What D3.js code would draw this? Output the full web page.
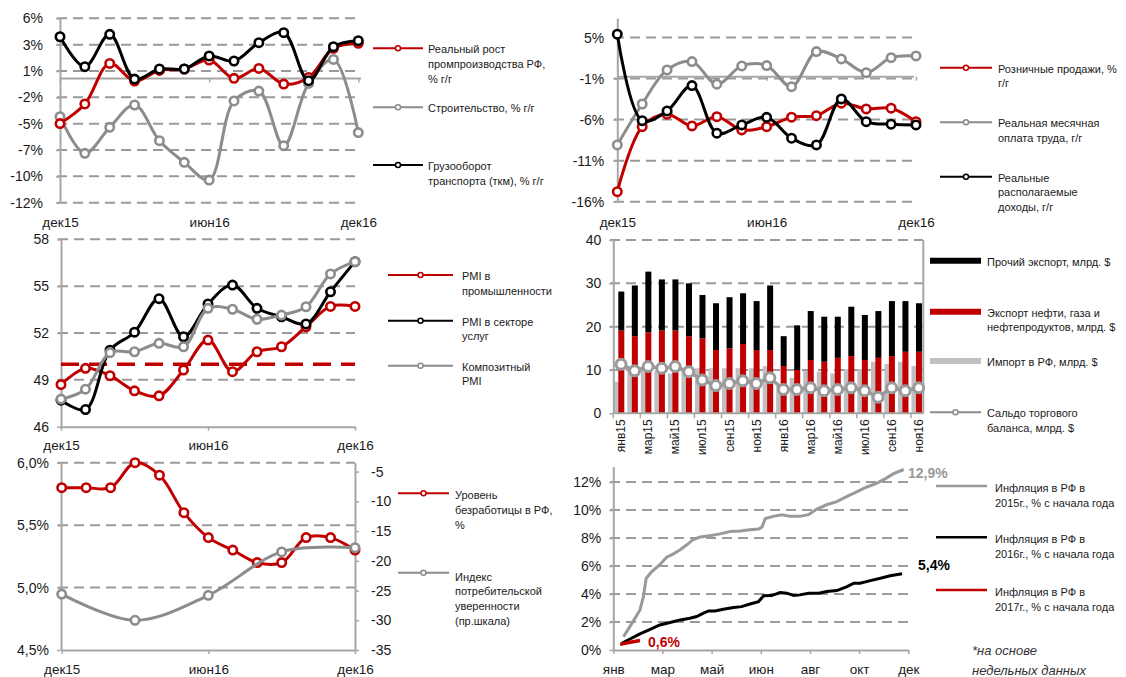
<!DOCTYPE html>
<html lang="ru">
<head>
<meta charset="UTF-8">
<title>Экономика РФ</title>
<script src="https://d3js.org/d3.v7.min.js"></script>
<style>
  body { margin: 0; background: #fff; }
  svg { display: block; }
</style>
</head>
<body>
<svg id="chart" width="1126" height="677"></svg>
<script>
// ---------- data ----------
const months = ["дек15","янв16","фев16","мар16","апр16","май16","июн16","июл16","авг16","сен16","окт16","ноя16","дек16"];
const monthTicks = ["дек15","июн16","дек16"];

// panel 1: industry
const p1Labels = ["-12%","-10%","-7%","-5%","-2%","1%","3%","6%"];
const industry = [-4.5,-2.55,1.5,-0.26,0.8,0.94,1.84,0.01,1.0,-0.56,0.1,3.0,3.5];
const construction = [-3.82,-7.47,-4.88,-2.65,-6.21,-8.37,-10.14,-2.25,-1.26,-6.71,-0.5,1.9,-5.4];
const freight = [4.16,1.17,4.4,-0.06,0.94,0.94,2.24,1.74,3.57,4.57,-0.23,3.17,3.77];

// panel 2: consumer
const p2Ticks = [-16,-10.75,-5.5,-0.25,5];
const p2Labels = ["-16%","-11%","-6%","-1%","5%"];
const retail = [-14.72,-6.4,-4.81,-6.31,-5.12,-6.82,-6.4,-5.19,-4.99,-3.4,-4.13,-4.04,-5.76];
const wages = [-8.74,-3.5,0.86,1.92,-0.97,1.37,1.41,-1.28,3.2,2.27,0.51,2.43,2.65];
const income = [5.43,-5.63,-4.39,-1.15,-7.24,-6.18,-5.2,-7.88,-8.74,-2.85,-5.76,-6.09,-6.18];

// panel 3: PMI
const p3Ticks = [46,49,52,55,58];
const pmiManuf = [48.7,49.74,49.27,48.3,47.98,49.63,51.55,49.52,50.8,51.12,52.4,53.7,53.7];
const pmiServ = [47.7,47.1,50.9,52.05,54.2,51.76,53.86,55.07,53.58,53.04,52.58,54.64,56.57];
const pmiComp = [47.77,48.4,50.74,50.8,51.34,51.12,53.58,53.52,52.88,53.15,53.68,55.78,56.57];

// panel 4: trade
const barMonths = ["янв15","фев15","мар15","апр15","май15","июн15","июл15","авг15","сен15","окт15","ноя15","дек15",
                   "янв16","фев16","мар16","апр16","май16","июн16","июл16","авг16","сен16","окт16","ноя16"];
const p4Ticks = [0,10,20,30,40];
const exportTotal = [28.1,29.5,32.7,30.9,30.9,30.0,27.3,25.4,26.8,27.7,25.9,29.5,17.8,20.3,23.6,22.3,22.3,24.6,22.7,23.6,25.9,25.9,25.4];
const exportOil = [19.1,17.8,18.7,19.1,19.1,17.8,17.3,14.6,15.0,16.0,14.6,14.6,10.9,10.0,12.3,11.9,12.8,13.2,12.3,12.8,13.2,14.2,14.2];
const imports = [7.3,10.0,9.8,9.8,9.2,10.4,10.4,10.4,10.4,10.4,10.4,10.9,6.3,8.2,9.8,9.6,9.2,10.2,10.2,11.9,11.4,11.9,10.9];
const balance = [11.3,9.8,10.8,10.4,10.8,9.6,7.7,6.4,6.9,7.5,6.9,8.2,5.5,5.5,5.9,5.2,5.5,5.9,5.2,3.7,5.9,5.2,5.9];

// panel 5: labour
const p5Ticks = [4.5,5.0,5.5,6.0];
const p5Labels = ["4,5%","5,0%","5,5%","6,0%"];
const p5RightTicks = [-35,-30,-25,-20,-15,-10,-5];
const unemployment = [5.8,5.8,5.8,6.0,5.9,5.6,5.4,5.3,5.2,5.2,5.4,5.4,5.3];
const confMonths = ["дек15","мар16","июн16","сен16","дек16"];
const confidence = [-25.6,-30,-25.8,-18.5,-17.8];

// panel 6: inflation (weekly)
const p6Ticks = [0,2,4,6,8,10,12];
const inflTickLabels = ["янв","мар","май","июн","авг","окт","дек"];
const infl15Weeks = [1.8,3.2,4.7,5.3,5.8,6.8,8.2,9.4,10.6,11.8,12.9,14.1,15.3,17,18.8,20.6,22.4,24.1,25.6,26.2,26.8,28.2,29.7,31.2,32.9,34.4,35.9,37.6,39.4,41.2,42.9,44.7,46.5,48.2,49.4,51.2];
const infl15 = [0.95,1.85,2.86,3.8,5.13,5.6,6.1,6.63,6.87,7.16,7.5,7.9,8.07,8.16,8.3,8.47,8.5,8.6,8.64,8.78,9.4,9.55,9.67,9.55,9.55,9.67,10.07,10.38,10.6,10.98,11.3,11.65,11.93,12.3,12.6,12.9];
const infl16Weeks = [1.5,3.2,4.7,6.5,8.2,10,11.8,13.5,14.7,15.9,16.8,17.9,19.4,21.2,22.6,24.1,25.6,26.5,27.9,29.4,30.6,31.8,32.9,34.4,36.2,37.6,39.4,41.2,42.4,43.5,45.3,47.1,48.8,50.9];
const infl16 = [0.48,0.84,1.15,1.48,1.79,1.96,2.15,2.27,2.39,2.63,2.79,2.79,2.91,3.03,3.1,3.29,3.46,3.87,3.89,4.1,4.06,3.89,3.94,4.06,4.06,4.18,4.25,4.53,4.77,4.77,4.96,5.13,5.3,5.45];
const infl17Weeks = [1.2,3.0,4.7];
const infl17 = [0.4,0.55,0.68];

// ---------- style ----------
const FONT = '"Liberation Sans", Arial, sans-serif';
const RED = "#c00000", BLK = "#000000", GRY = "#8c8c8c", BARGRY = "#c0c0c0";
const GRID = "#9a9a9a", AX = "#a6a6a6", TXT = "#1a1a1a";

const svg = d3.select("#chart").attr("font-family", FONT);
svg.append("rect").attr("width", 1126).attr("height", 677).attr("fill", "#fff");

function grid(g, y, vals, x0, x1) {
  g.append("g").selectAll("line").data(vals).join("line")
    .attr("x1", x0).attr("x2", x1)
    .attr("y1", d => y(d)).attr("y2", d => y(d))
    .attr("stroke", GRID).attr("stroke-width", 2).attr("stroke-dasharray", "10,6");
}

function styleAxis(ax, fs) {
  ax.attr("font-family", FONT).attr("font-size", fs || 14);
  ax.select(".domain").attr("stroke", AX).attr("stroke-width", 2);
  ax.selectAll(".tick line").attr("stroke", AX).attr("stroke-width", 1.5);
  ax.selectAll(".tick text").attr("fill", TXT);
}

function yAxis(g, y, x, vals, labels, pad, right) {
  const a = (right ? d3.axisRight(y) : d3.axisLeft(y))
    .tickValues(vals).tickFormat((d, i) => labels[i])
    .tickSizeInner(4).tickSizeOuter(0).tickPadding(pad);
  const ax = g.append("g").attr("transform", `translate(${x},0)`).call(a);
  styleAxis(ax, 14);
  return ax;
}

// solid x axis line with small ticks, optional labels
function xAxis(g, x, yPos, ticks, labelFn, pad) {
  const a = d3.axisBottom(x).tickValues(ticks).tickFormat(labelFn || (() => ""))
    .tickSizeInner(4).tickSizeOuter(0).tickPadding(pad || 3);
  const ax = g.append("g").attr("transform", `translate(0,${yPos})`).call(a);
  styleAxis(ax, 13.5);
  return ax;
}

// labels only, no line
function xLabels(g, x, yPos, ticks) {
  const ax = g.append("g").attr("transform", `translate(0,${yPos})`)
    .call(d3.axisBottom(x).tickValues(ticks).tickSize(0).tickPadding(3));
  styleAxis(ax, 13.5);
  ax.select(".domain").remove();
}

function series(g, x, y, cats, vals, color, opt = {}) {
  const line = d3.line().x((d, i) => x(cats[i])).y(d => y(d))
    .curve(opt.curve || d3.curveCatmullRom.alpha(0.5));
  g.append("path").datum(vals).attr("d", line)
    .attr("fill", "none").attr("stroke", color)
    .attr("stroke-width", opt.w || 3).attr("stroke-linejoin", "round");
  g.append("g").selectAll("circle").data(vals).join("circle")
    .attr("cx", (d, i) => x(cats[i])).attr("cy", d => y(d))
    .attr("r", opt.r || 4.2).attr("fill", "#fff")
    .attr("stroke", color).attr("stroke-width", opt.sw || 2.6);
}

function legend(g, x0, x1, y, color, lines, opt = {}) {
  g.append("line").attr("x1", x0).attr("x2", x1).attr("y1", y).attr("y2", y)
    .attr("stroke", color).attr("stroke-width", opt.w || 2);
  if (opt.marker) {
    g.append("circle").attr("cx", (x0 + x1) / 2).attr("cy", y).attr("r", opt.marker)
      .attr("fill", "#fff").attr("stroke", color).attr("stroke-width", 1.5);
  }
  const tx = opt.tx || x1 + 6;
  const t = g.append("text").attr("x", tx).attr("y", y + (opt.dy == null ? 5 : opt.dy))
    .attr("font-size", 11).attr("fill", TXT);
  lines.forEach((s, i) => t.append("tspan").attr("x", tx).attr("dy", i ? 14.6 : 0).text(s));
}

// ---------- panel 1 ----------
{
  const g = svg.append("g");
  const x = d3.scalePoint().domain(months).range([60, 358.3]);
  const y = d3.scaleLinear().domain([-12.4, 6]).range([202.7, 18.3]);
  const ticks = d3.range(8).map(i => -12.4 + i * 18.4 / 7);
  grid(g, y, ticks, 57, 360);
  yAxis(g, y, 60, ticks, p1Labels, 13);
  const ax = xAxis(g, x, y(0), monthTicks);
  ax.select(".domain").attr("d", `M60,0H361`);
  xLabels(g, x, 214, monthTicks);
  series(g, x, y, months, construction, GRY);
  series(g, x, y, months, industry, RED);
  series(g, x, y, months, freight, BLK);
  legend(g, 373, 423, 48.3, RED, ["Реальный  рост", "промпроизводства  РФ,", "% г/г"], { marker: 2.5, tx: 428 });
  legend(g, 373, 423, 107.3, GRY, ["Строительство,  % г/г"], { marker: 2.5, tx: 428 });
  legend(g, 373, 423, 165, BLK, ["Грузооборот", "транспорта  (ткм), % г/г"], { marker: 2.5, tx: 428 });
}

// ---------- panel 2 ----------
{
  const g = svg.append("g");
  const x = d3.scalePoint().domain(months).range([617.3, 916]);
  const y = d3.scaleLinear().domain([-16, 7.5]).range([201.7, 18]);
  grid(g, y, p2Ticks, 614, 912);
  yAxis(g, y, 617.3, p2Ticks, p2Labels, 9);
  const ax = xAxis(g, x, y(0), monthTicks);
  ax.select(".domain").attr("d", `M617.3,0H914`);
  xLabels(g, x, 214, monthTicks);
  series(g, x, y, months, wages, GRY);
  series(g, x, y, months, retail, RED);
  series(g, x, y, months, income, BLK);
  legend(g, 940, 992, 67.7, RED, ["Розничные  продажи, %", "г/г"], { marker: 2.5, tx: 998 });
  legend(g, 940, 992, 122.3, GRY, ["Реальная  месячная", "оплата  труда, г/г"], { marker: 2.5, tx: 998 });
  legend(g, 940, 992, 176.7, BLK, ["Реальные", "располагаемые", "доходы, г/г"], { marker: 2.5, tx: 998 });
}

// ---------- panel 3 ----------
{
  const g = svg.append("g");
  const x = d3.scalePoint().domain(months).range([61, 355]);
  const y = d3.scaleLinear().domain([46, 58]).range([426.7, 239.3]);
  grid(g, y, p3Ticks.slice(1), 58, 355);
  yAxis(g, y, 61, p3Ticks, p3Ticks.map(String), 8);
  xAxis(g, x, y(46), monthTicks, d => d, 9.5);
  g.append("line").attr("x1", x(months[0])).attr("x2", x(months[12]))
    .attr("y1", y(50)).attr("y2", y(50))
    .attr("stroke", RED).attr("stroke-width", 3.5).attr("stroke-dasharray", "18,10");
  series(g, x, y, months, pmiManuf, RED);
  series(g, x, y, months, pmiServ, BLK);
  series(g, x, y, months, pmiComp, GRY);
  legend(g, 388, 453, 275, RED, ["PMI  в", "промышленности"], { marker: 2.5, tx: 462 });
  legend(g, 388, 453, 320.7, BLK, ["PMI  в секторе", "услуг"], { marker: 2.5, tx: 462 });
  legend(g, 388, 453, 365.7, GRY, ["Композитный", "PMI"], { marker: 2.5, tx: 462 });
}

// ---------- panel 4 ----------
{
  const g = svg.append("g");
  const x = d3.scaleBand().domain(barMonths).range([613.3, 924.5]);
  const y = d3.scaleLinear().domain([0, 40]).range([413.3, 240]);
  const bw = x.bandwidth();
  grid(g, y, p4Ticks.slice(1), 610, 923);
  // imports
  g.append("g").selectAll("rect").data(imports).join("rect")
    .attr("x", (d, i) => x(barMonths[i]) + 0.5).attr("width", 5.5)
    .attr("y", d => y(d)).attr("height", d => y(0) - y(d)).attr("fill", BARGRY);
  // oil & gas exports
  g.append("g").selectAll("rect").data(exportOil).join("rect")
    .attr("x", (d, i) => x(barMonths[i]) + 5).attr("width", 6)
    .attr("y", d => y(d)).attr("height", d => y(0) - y(d)).attr("fill", RED);
  // other exports (stacked on top)
  g.append("g").selectAll("rect").data(exportTotal).join("rect")
    .attr("x", (d, i) => x(barMonths[i]) + 5).attr("width", 6)
    .attr("y", d => y(d)).attr("height", (d, i) => y(exportOil[i]) - y(d)).attr("fill", BLK);
  // axes
  yAxis(g, y, 613.3, p4Ticks, p4Ticks.map(String), 8);
  g.append("line").attr("x1", 923.3).attr("x2", 923.3).attr("y1", 240).attr("y2", 413.3)
    .attr("stroke", AX).attr("stroke-width", 2);
  const bAxis = g.append("g").attr("transform", "translate(0,413.3)");
  bAxis.append("line").attr("x1", 613.3).attr("x2", 923.3).attr("stroke", AX).attr("stroke-width", 2);
  bAxis.selectAll(".tk").data(barMonths.filter((d, i) => i % 2 === 0)).join("line")
    .attr("x1", d => x(d)).attr("x2", d => x(d)).attr("y1", 0).attr("y2", 5)
    .attr("stroke", AX).attr("stroke-width", 1.5);
  bAxis.selectAll("text").data(barMonths.filter((d, i) => i % 2 === 0)).join("text")
    .attr("transform", d => `translate(${x(d) + bw / 2 + 1},6) rotate(-90)`)
    .attr("dy", "0.35em").attr("text-anchor", "end")
    .attr("font-size", 12).attr("fill", TXT).text(d => d);
  // balance line
  const line = d3.line().x((d, i) => x(barMonths[i]) + bw / 2 + 1).y(d => y(d));
  g.append("path").datum(balance).attr("d", line).attr("fill", "none")
    .attr("stroke", "#9a9a9a").attr("stroke-width", 3.5);
  g.append("g").selectAll("circle").data(balance).join("circle")
    .attr("cx", (d, i) => x(barMonths[i]) + bw / 2 + 1).attr("cy", d => y(d)).attr("r", 5)
    .attr("fill", "#fff").attr("stroke", "#9a9a9a").attr("stroke-width", 3);
  // legend
  legend(g, 930, 981, 260.7, BLK, ["Прочий  экспорт, млрд. $"], { w: 6, tx: 987 });
  legend(g, 930, 981, 311.7, RED, ["Экспорт  нефти, газа и", "нефтепродуктов,  млрд. $"], { w: 6, tx: 987 });
  legend(g, 930, 981, 361, BARGRY, ["Импорт  в РФ, млрд. $"], { w: 6, tx: 987 });
  legend(g, 930, 981, 412.3, "#8c8c8c", ["Сальдо торгового", "баланса,  млрд. $"], { marker: 2.5, tx: 987 });
}

// ---------- panel 5 ----------
{
  const g = svg.append("g");
  const x = d3.scalePoint().domain(months).range([61.7, 355]);
  const y = d3.scaleLinear().domain([4.5, 6.0]).range([650, 462.7]);
  const yr = d3.scaleLinear().domain([-35, -3.5]).range([650, 462.7]);
  grid(g, y, p5Ticks.slice(1), 58, 355);
  yAxis(g, y, 61, p5Ticks, p5Labels, 8);
  yAxis(g, yr, 355, p5RightTicks, p5RightTicks.map(String), 12, true);
  xAxis(g, x, 650, monthTicks, d => d, 10);
  series(g, x, y, months, unemployment, RED);
  series(g, x, yr, confMonths, confidence, GRY);
  legend(g, 398, 449, 493.3, RED, ["Уровень", "безработицы   в РФ,", "%"], { marker: 2.5, tx: 455, dy: 6 });
  legend(g, 398, 449, 572.7, GRY, ["Индекс", "потребительской", "уверенности", "(пр.шкала)"], { marker: 2.5, tx: 455, dy: 8 });
}

// ---------- panel 6 ----------
{
  const g = svg.append("g");
  const x = d3.scaleLinear().domain([0, 52]).range([613.3, 908.3]);
  const y = d3.scaleLinear().domain([0, 13.1]).range([650, 466.7]);
  grid(g, y, p6Ticks.slice(1), 610, 908);
  yAxis(g, y, 613.3, p6Ticks, p6Ticks.map(d => d + "%"), 8);
  xAxis(g, x, 650, d3.range(7).map(i => i * 52 / 6), (d, i) => inflTickLabels[i], 10);
  const ln = (wk) => d3.line().x((d, i) => x(wk[i])).y(d => y(d));
  g.append("path").datum(infl15).attr("d", ln(infl15Weeks)).attr("fill", "none")
    .attr("stroke", "#999").attr("stroke-width", 3);
  g.append("path").datum(infl16).attr("d", ln(infl16Weeks)).attr("fill", "none")
    .attr("stroke", BLK).attr("stroke-width", 3);
  g.append("path").datum(infl17).attr("d", ln(infl17Weeks)).attr("fill", "none")
    .attr("stroke", RED).attr("stroke-width", 3.5);
  g.append("text").attr("x", 908).attr("y", 478).attr("font-size", 14).attr("font-weight", "bold")
    .attr("fill", "#999").text("12,9%");
  g.append("text").attr("x", 918).attr("y", 570).attr("font-size", 14).attr("font-weight", "bold")
    .attr("fill", BLK).text("5,4%");
  g.append("text").attr("x", 648).attr("y", 647).attr("font-size", 14).attr("font-weight", "bold")
    .attr("fill", RED).text("0,6%");
  legend(g, 936, 987, 486, "#999", ["Инфляция  в РФ в", "2015г.,  % с начала  года"], { w: 2.5, tx: 995, dy: 6 });
  legend(g, 936, 987, 537.3, BLK, ["Инфляция  в РФ в", "2016г.,  % с начала  года"], { w: 2.5, tx: 995, dy: 6 });
  legend(g, 936, 987, 590, RED, ["Инфляция  в РФ в", "2017г.,  % с начала  года"], { w: 2.5, tx: 995, dy: 6 });
  const f = g.append("text").attr("font-size", 13).attr("font-style", "italic").attr("fill", "#333");
  f.append("tspan").attr("x", 972).attr("y", 655).text("*на основе");
  f.append("tspan").attr("x", 972).attr("y", 675).text("недельных данных");
}
</script>
</body>
</html>
